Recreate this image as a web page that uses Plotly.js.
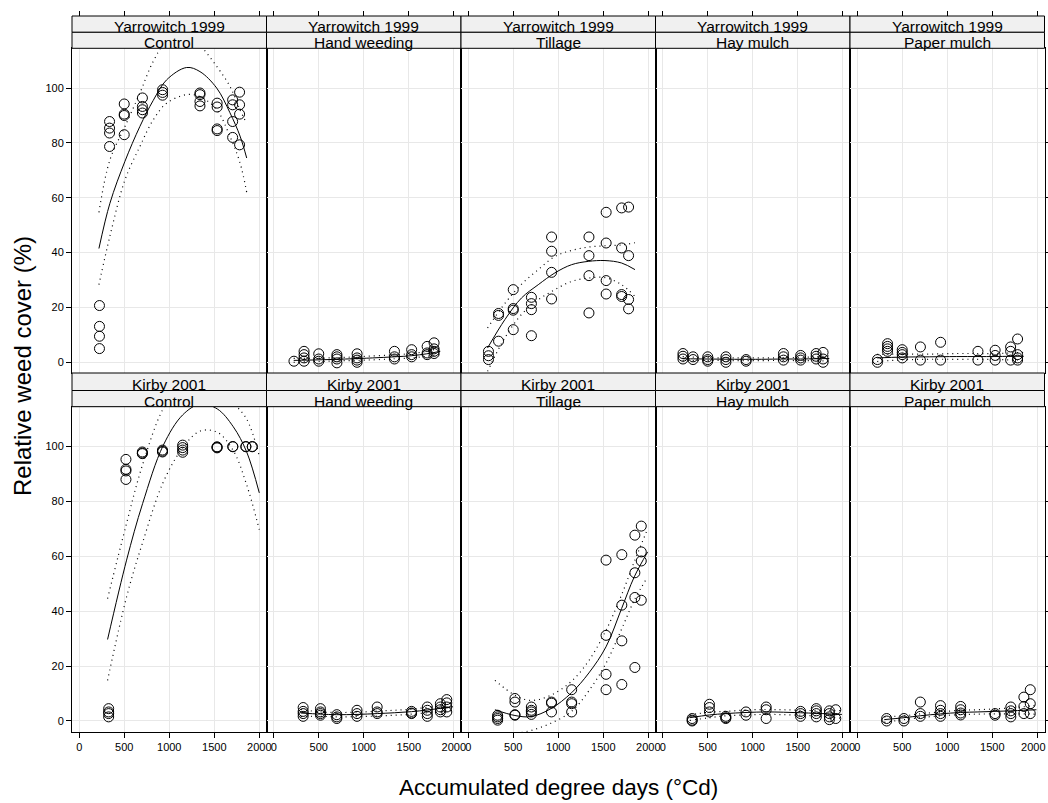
<!DOCTYPE html>
<html>
<head>
<meta charset="utf-8">
<script src="https://cdn.plot.ly/plotly-3.0.1.min.js"></script>
<style>html,body{margin:0;padding:0;background:#fff}</style>
</head>
<body>
<div id="chart" style="width:1048px;height:803px"></div>
<script>
// Relative weed cover against accumulated degree days, by site and treatment.
const sites = ["Yarrowitch 1999", "Kirby 2001"];
const treatments = ["Control", "Hand weeding", "Tillage", "Hay mulch", "Paper mulch"];
const xTicks = [0, 500, 1000, 1500, 2000];
const yTicks = [0, 20, 40, 60, 80, 100];

// Sampling dates (accumulated °Cd)
const yarDays = [225, 337, 500, 702, 926, 1341, 1532, 1704, 1781];
const kirDays = [327, 519, 701, 925, 1149, 1531, 1706, 1851, 1922];

// Observed cover (%) for each sampling date
const yarControl = [[20.7, 13.1, 9.5, 5.0], [87.8, 85.4, 83.6, 78.7], [94.2, 90.5, 90.0, 83.0], [96.4, 93.3, 92.1, 90.9], [99.4, 98.4, 97.4], [98.2, 97.6, 95.1, 93.5], [94.5, 93.1, 85.1, 84.5], [95.7, 93.9, 87.8, 82.0], [98.5, 93.9, 90.5, 79.3]];
const yarHand = [[0.4], [4.0, 2.8, 1.6, 0.4], [3.1, 1.2, 0.4], [2.8, 2.0, 1.2, -0.2], [3.1, 1.6, 0.8, 0.0], [4.0, 2.0, 1.2], [4.6, 2.8, 2.0], [5.8, 3.4, 2.8], [7.1, 4.9, 4.0, 3.2]];
const yarTillage = [[4.0, 2.4, 1.0], [17.8, 17.1, 7.7], [26.5, 19.6, 19.0, 11.9], [23.7, 21.4, 19.2, 9.7], [45.7, 40.5, 32.8, 23.1], [45.7, 38.9, 31.6, 18.0], [54.7, 43.5, 29.8, 24.9], [56.3, 41.7, 24.7, 24.0], [56.6, 38.9, 22.9, 19.5]];
const yarHay = [[3.2, 2.2, 1.2], [2.0, 1.0], [2.0, 1.0, 0.4], [2.0, 1.0, 0.0], [1.0, 0.4], [3.2, 2.0, 0.8], [2.5, 1.6, 0.8], [3.2, 2.2, 1.2], [3.6, 1.2, 0.0]];
const yarPaper = [[1.0, 0.0], [6.8, 5.8, 4.9, 4.0], [4.6, 3.6, 2.8, 1.6], [5.6, 0.8], [7.3, 0.8], [4.0, 0.8], [4.4, 2.5, 0.8], [5.6, 4.0, 0.8], [8.5, 2.8, 1.6, 0.8]];

const kirControl = [[4.5, 3.3, 2.7, 1.5], [95.3, 91.7, 91.1, 88.0], [98.0, 97.6, 97.4], [98.7, 98.3, 98.0], [100.5, 99.6, 98.7, 97.9], [99.9, 99.5, 99.7], [99.9, 100.0], [99.9, 100.0], [99.9, 100.0]];
const kirHand = [[4.9, 3.5, 2.7, 1.7], [4.5, 3.3, 2.7, 2.1], [2.3, 1.5, 0.9], [3.9, 2.7, 1.7], [5.1, 3.3, 2.7], [3.5, 2.9, 2.7], [5.1, 3.9, 2.7, 1.7], [6.3, 5.1, 4.1, 3.3], [7.8, 6.6, 5.1, 3.3]];
const kirTillage = [[2.1, 1.5, 0.9, 0.3], [8.2, 6.9, 2.3, 2.1], [5.1, 3.9, 3.3, 2.4], [6.9, 6.5, 3.3], [11.4, 6.9, 6.3, 3.3], [58.6, 31.2, 17.0, 11.4], [60.6, 42.2, 29.2, 13.3], [67.7, 54.0, 45.0, 19.5], [71.0, 61.6, 58.3, 44.0]];
const kirHay = [[0.9, 0.3, 0.0], [6.1, 4.9, 3.3], [1.7, 1.2, 0.9], [3.3, 2.1], [5.1, 4.1, 0.9], [3.5, 2.7, 1.7], [4.5, 3.7, 2.7, 1.5], [3.7, 2.7, 1.5, 0.5], [4.1, 0.9]];
const kirPaper = [[0.9, 0.0], [0.9, 0.0], [6.9, 2.7, 1.7], [5.6, 3.9, 2.7, 1.7], [5.3, 4.1, 2.9, 2.2], [2.7, 2.1], [5.1, 3.7, 2.7, 1.5], [8.7, 5.3, 2.7], [11.4, 6.3, 2.7]];

// Fitted curves with lower / upper confidence limits
const yarControlFitX = [219, 341, 508, 674, 822, 971, 1193, 1341, 1527, 1674, 1786, 1860];
const yarControlFit = [41.5, 58, 73.3, 86, 95.5, 103, 107.5, 106, 100, 91, 82.5, 74.5];
const yarControlLo = [28.3, 46, 66.5, 78.7, 88.4, 94.5, 97.6, 96.9, 92.1, 82.4, 72.7, 62];
const yarControlHi = [54.7, 73.8, 86, 98.2, 109.7, 117, 119, 115.5, 107.9, 100.6, 92.1, 87];

const yarTillFitX = [215, 408, 593, 778, 963, 1148, 1333, 1519, 1704, 1852];
const yarTillFit = [5.2, 15.6, 23.5, 28.3, 32.6, 35.6, 36.8, 37.1, 36.2, 33.8];
const yarTillLo = [-3.3, 9, 17.5, 22.8, 26.5, 29.5, 30.7, 30.9, 28.3, 24];
const yarTillHi = [12.5, 21.5, 28.5, 33.8, 38.6, 40.8, 42, 42.5, 42.8, 43.6];

const yarFlatX = [222, 500, 800, 1100, 1340, 1530, 1700, 1850];
const yarHandFit = [0.7, 0.9, 1.2, 1.6, 2.0, 2.4, 3.1, 4.0];
const yarHandLo = [0.0, 0.3, 0.6, 0.9, 1.3, 1.6, 2.2, 2.8];
const yarHandHi = [1.4, 1.5, 1.8, 2.3, 2.7, 3.2, 4.0, 5.2];
const yarHayFit = [1.3, 1.2, 1.1, 1.1, 1.2, 1.2, 1.3, 1.4];
const yarHayLo = [0.5, 0.7, 0.6, 0.6, 0.7, 0.6, 0.6, 0.4];
const yarHayHi = [2.1, 1.7, 1.6, 1.6, 1.7, 1.8, 2.0, 2.4];
const yarPaperFit = [1.6, 1.9, 2.0, 2.1, 2.1, 2.1, 2.2, 2.2];
const yarPaperLo = [0.3, 0.9, 1.1, 1.1, 1.1, 1.0, 0.9, 0.8];
const yarPaperHi = [2.9, 3.0, 3.0, 3.2, 3.2, 3.2, 3.4, 3.6];

const kirControlFitX = [315, 526, 704, 933, 1149, 1341, 1533, 1711, 1860, 2000];
const kirControlFit = [29.7, 58.6, 79.2, 100.4, 111.5, 115.4, 113.7, 107.2, 98, 83.1];
const kirControlLo = [14.8, 45.2, 65, 87, 99.5, 105.6, 105.2, 98.5, 86, 69.7];
const kirControlHi = [44.6, 72, 93.4, 113.8, 123.5, 125.2, 122.2, 115.9, 110, 96.5];

const kirTillFitX = [297, 519, 697, 919, 1148, 1340, 1530, 1704, 1844, 1993];
const kirTillFit = [4.1, 2.0, 1.6, 4.5, 10.3, 17.5, 27, 41, 52.5, 61.6];
const kirTillLo = [-12, -5, -3.5, -0.8, 3.5, 11, 21, 33.5, 44, 52.5];
const kirTillHi = [14.8, 9.4, 7.5, 9.4, 14.5, 22, 33, 46, 58, 70];

const kirFlatX = [300, 520, 700, 925, 1150, 1340, 1530, 1706, 1850, 1990];
const kirHandFit = [2.9, 2.5, 2.3, 2.4, 2.7, 3.0, 3.4, 4.0, 4.6, 5.2];
const kirHandLo = [1.6, 1.7, 1.5, 1.6, 1.8, 2.1, 2.5, 3.0, 3.4, 3.8];
const kirHandHi = [4.2, 3.3, 3.1, 3.2, 3.6, 3.9, 4.3, 5.0, 5.8, 6.6];
const kirHayFit = [1.2, 2.2, 2.7, 3.1, 3.3, 3.2, 3.0, 2.8, 2.6, 2.4];
const kirHayLo = [0.2, 1.2, 1.9, 2.2, 2.4, 2.3, 2.1, 1.8, 1.4, 1.0];
const kirHayHi = [2.2, 3.2, 3.5, 4.0, 4.2, 4.1, 3.9, 3.8, 3.8, 3.8];
const kirPaperFit = [0.5, 1.2, 1.9, 2.6, 3.1, 3.3, 3.5, 3.7, 3.9, 4.1];
const kirPaperLo = [-0.5, 0.5, 1.2, 1.9, 2.3, 2.5, 2.6, 2.6, 2.6, 2.5];
const kirPaperHi = [1.5, 1.9, 2.6, 3.3, 3.9, 4.1, 4.4, 4.8, 5.2, 5.7];

// Panel table, row by row
const panels = [
  {days: yarDays, obs: yarControl, fx: yarControlFitX, fit: yarControlFit, lo: yarControlLo, hi: yarControlHi},
  {days: yarDays, obs: yarHand, fx: yarFlatX, fit: yarHandFit, lo: yarHandLo, hi: yarHandHi},
  {days: yarDays, obs: yarTillage, fx: yarTillFitX, fit: yarTillFit, lo: yarTillLo, hi: yarTillHi},
  {days: yarDays, obs: yarHay, fx: yarFlatX, fit: yarHayFit, lo: yarHayLo, hi: yarHayHi},
  {days: yarDays, obs: yarPaper, fx: yarFlatX, fit: yarPaperFit, lo: yarPaperLo, hi: yarPaperHi},
  {days: kirDays, obs: kirControl, fx: kirControlFitX, fit: kirControlFit, lo: kirControlLo, hi: kirControlHi},
  {days: kirDays, obs: kirHand, fx: kirFlatX, fit: kirHandFit, lo: kirHandLo, hi: kirHandHi},
  {days: kirDays, obs: kirTillage, fx: kirTillFitX, fit: kirTillFit, lo: kirTillLo, hi: kirTillHi},
  {days: kirDays, obs: kirHay, fx: kirFlatX, fit: kirHayFit, lo: kirHayLo, hi: kirHayHi},
  {days: kirDays, obs: kirPaper, fx: kirFlatX, fit: kirPaperFit, lo: kirPaperLo, hi: kirPaperHi}
];

// Page geometry (pixels)
const W = 1048, H = 803;
const colEdges = [72, 266.5, 461, 655.5, 850, 1044.5];
const rowPlot = [[48.3, 373], [406.7, 731.7]];
const rowStrips = [[16, 32.3, 48.3], [373, 390.5, 406.7]];
const topTickY = 16;
const xRange = [-80, 2080];
const yRange = [-3.9, 114.5];
const px = v => v / W;
const py = v => 1 - v / H;

const FONT = "Arial, 'Liberation Sans', Helvetica, sans-serif";
const GRID = "#e8e8e8";
const TICKFONT = {size: 11, color: "#000", family: FONT};

const traces = [];
const layout = {
  width: W, height: H,
  margin: {l: 0, r: 0, t: 0, b: 0},
  paper_bgcolor: "#fff", plot_bgcolor: "#fff",
  showlegend: false,
  font: {family: FONT, color: "#000"},
  shapes: [], annotations: []
};

const lastTick = xTicks[xTicks.length - 1];

panels.forEach((p, i) => {
  const k = i + 1;
  const r = Math.floor(i / 5), c = i % 5;
  const sfx = k === 1 ? "" : String(k);
  const xa = "x" + sfx, ya = "y" + sfx;
  const rightEdge = r === 1 && c === 4;

  layout["xaxis" + sfx] = {
    domain: [px(colEdges[c]), px(colEdges[c + 1])],
    anchor: ya, range: xRange, tickvals: xTicks,
    // the rightmost label is drawn by a companion axis nudged inside the page
    ticktext: xTicks.map(v => (rightEdge && v === lastTick) ? "" : String(v)),
    showgrid: true, gridcolor: GRID, gridwidth: 1, zeroline: false,
    showline: true, mirror: true, linecolor: "#000", linewidth: 1,
    ticks: r === 1 ? "outside" : "", ticklen: 5, tickwidth: 1, tickcolor: "#000",
    showticklabels: r === 1, ticklabeloverflow: "allow", tickfont: TICKFONT
  };
  layout["yaxis" + sfx] = {
    domain: [py(rowPlot[r][1]), py(rowPlot[r][0])],
    anchor: xa, range: yRange, tickvals: yTicks, ticktext: yTicks.map(String),
    showgrid: true, gridcolor: GRID, gridwidth: 1, zeroline: false,
    showline: true, mirror: true, linecolor: "#000", linewidth: 1,
    side: c === 4 ? "right" : "left",
    ticks: (c === 0 || c === 4) ? "outside" : "", ticklen: 5, tickwidth: 1, tickcolor: "#000",
    showticklabels: c === 0, tickfont: TICKFONT
  };

  // observations
  const ox = [], oy = [];
  p.days.forEach((d, j) => p.obs[j].forEach(v => { ox.push(d); oy.push(v); }));
  traces.push({
    type: "scatter", mode: "markers", x: ox, y: oy, xaxis: xa, yaxis: ya,
    marker: {symbol: "circle-open", size: 10, color: "#000", line: {width: 1, color: "#000"}},
    hoverinfo: "x+y"
  });
  // confidence limits
  [p.lo, p.hi].forEach(band => traces.push({
    type: "scatter", mode: "lines", x: p.fx, y: band, xaxis: xa, yaxis: ya,
    line: {color: "#000", width: 1.2, dash: "1px,4px", shape: "spline", smoothing: 1},
    hoverinfo: "skip"
  }));
  // fitted curve
  traces.push({
    type: "scatter", mode: "lines", x: p.fx, y: p.fit, xaxis: xa, yaxis: ya,
    line: {color: "#000", width: 1, shape: "spline", smoothing: 1},
    hoverinfo: "skip"
  });

  // strips: site above treatment
  const s = rowStrips[r];
  const labels = [sites[r], treatments[c]];
  [0, 1].forEach(j => {
    layout.shapes.push({
      type: "rect", xref: "paper", yref: "paper",
      x0: px(colEdges[c]), x1: px(colEdges[c + 1]),
      y0: py(s[j + 1]), y1: py(s[j]),
      fillcolor: "#f0f0f0", line: {color: "#000", width: 1}, layer: "above"
    });
    layout.annotations.push({
      xref: "paper", yref: "paper",
      x: px((colEdges[c] + colEdges[c + 1]) / 2), y: py((s[j] + s[j + 1]) / 2),
      xanchor: "center", yanchor: "middle", yshift: -2.5,
      text: labels[j], showarrow: false,
      font: {size: 15.5, color: "#000", family: FONT}
    });
  });
});

// tick marks along the top edge of the strips
for (let c = 0; c < 5; c++) {
  const base = c === 0 ? "x" : "x" + (c + 1);
  const key = 11 + c;
  layout["xaxis" + key] = {
    overlaying: base, anchor: "free", position: py(topTickY), side: "top",
    range: xRange, tickvals: xTicks, ticks: "outside", ticklen: 5, tickwidth: 1, tickcolor: "#000",
    showticklabels: false, showgrid: false, zeroline: false, showline: false
  };
  traces.push({
    type: "scatter", mode: "markers", x: [null], y: [null],
    xaxis: "x" + key, yaxis: c === 0 ? "y" : "y" + (c + 1), hoverinfo: "skip"
  });
}

// rightmost bottom label, shifted slightly left so it stays on the page
layout.xaxis16 = {
  overlaying: "x10", anchor: "y10", side: "bottom",
  range: xRange, tickvals: [lastTick], ticktext: [String(lastTick)],
  ticks: "outside", ticklen: 5, tickwidth: 1, tickcolor: "#000",
  showticklabels: true, ticklabelshift: -4, ticklabeloverflow: "allow",
  showgrid: false, zeroline: false, showline: false, tickfont: TICKFONT
};
traces.push({
  type: "scatter", mode: "markers", x: [null], y: [null],
  xaxis: "x16", yaxis: "y10", hoverinfo: "skip"
});

// axis titles
layout.annotations.push({
  xref: "paper", yref: "paper", x: px(558), y: py(787),
  xanchor: "center", yanchor: "middle", showarrow: false,
  text: "Accumulated degree days (°Cd)", font: {size: 22.5, color: "#000", family: FONT}
});
layout.annotations.push({
  xref: "paper", yref: "paper", x: px(22), y: py(366),
  xanchor: "center", yanchor: "middle", showarrow: false, textangle: -90,
  text: "Relative weed cover (%)", font: {size: 24, color: "#000", family: FONT}
});

Plotly.newPlot("chart", traces, layout, {displayModeBar: false, staticPlot: true});
</script>
</body>
</html>
